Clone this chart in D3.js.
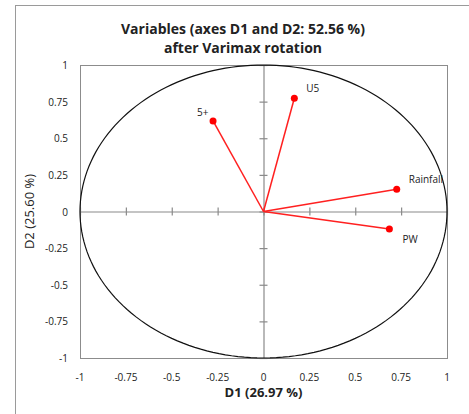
<!DOCTYPE html>
<html>
<head>
<meta charset="utf-8">
<script src="https://cdnjs.cloudflare.com/ajax/libs/d3/7.8.5/d3.min.js"></script>
<style>
  body { margin: 0; background: #fff; }
  text { font-family: 'Open Sans', 'Liberation Sans', sans-serif; fill: #222; }
</style>
</head>
<body>
<script>
  // data
  const variables = ['5+', 'U5', 'Rainfall', 'PW'];
  const d1Values = [-0.275, 0.168, 0.726, 0.686];
  const d2Values = [0.618, 0.773, 0.152, -0.120];
  const tickValues = [-1, -0.75, -0.5, -0.25, 0, 0.25, 0.5, 0.75, 1];

  const W = 469, H = 414;
  const plotLeft = 80, plotRight = 447, plotTop = 65, plotBottom = 358;

  const svg = d3.select('body').append('svg')
    .attr('width', W).attr('height', H);

  // outer frame
  svg.append('rect')
    .attr('x', 15.5).attr('y', 5.5)
    .attr('width', 470).attr('height', 430)
    .attr('fill', 'none').attr('stroke', '#9a9a9a');

  const x = d3.scaleLinear().domain([-1, 1]).range([plotLeft, plotRight]);
  const y = d3.scaleLinear().domain([-1, 1]).range([plotBottom, plotTop]);

  // plot box
  svg.append('rect')
    .attr('x', plotLeft + 0.5).attr('y', plotTop + 0.5)
    .attr('width', plotRight - plotLeft).attr('height', plotBottom - plotTop)
    .attr('fill', 'none').attr('stroke', '#8c8c8c');

  // tick labels
  svg.append('g').selectAll('text').data(tickValues).enter().append('text')
    .attr('x', d => x(d)).attr('y', plotBottom + 23)
    .attr('text-anchor', 'middle').attr('font-size', 10)
    .text(d => String(d));

  svg.append('g').selectAll('text').data(tickValues).enter().append('text')
    .attr('x', plotLeft - 12).attr('y', d => y(d) + 4)
    .attr('text-anchor', 'end').attr('font-size', 10)
    .text(d => String(d));

  // zero axes with ticks
  const axisColor = '#8a8a8a';
  const gx = svg.append('g').attr('transform', `translate(0,${y(0)})`)
    .call(d3.axisBottom(x).tickValues(tickValues).tickSizeInner(8).tickSizeOuter(0).tickFormat(''));
  gx.selectAll('line').attr('y1', -4).attr('y2', 4);
  const gy = svg.append('g').attr('transform', `translate(${x(0)},0)`)
    .call(d3.axisLeft(y).tickValues(tickValues).tickSizeInner(8).tickSizeOuter(0).tickFormat(''));
  gy.selectAll('line').attr('x1', -4).attr('x2', 4);
  svg.selectAll('.domain').attr('stroke', axisColor).attr('stroke-width', 1.2);
  svg.selectAll('.tick line').attr('stroke', axisColor).attr('stroke-width', 1.2);

  // correlation circle
  const angles = d3.range(0, 361, 2).map(a => a * Math.PI / 180);
  svg.append('path')
    .datum(angles)
    .attr('d', d3.line().x(a => x(Math.cos(a))).y(a => y(Math.sin(a))))
    .attr('fill', 'none').attr('stroke', '#111').attr('stroke-width', 1.2);

  // vectors
  const pts = variables.map((v, i) => ({ name: v, d1: d1Values[i], d2: d2Values[i] }));
  svg.append('g').selectAll('line').data(pts).enter().append('line')
    .attr('x1', x(0)).attr('y1', y(0))
    .attr('x2', d => x(d.d1)).attr('y2', d => y(d.d2))
    .attr('stroke', '#ff2020').attr('stroke-width', 1.5);
  svg.append('g').selectAll('circle').data(pts).enter().append('circle')
    .attr('cx', d => x(d.d1)).attr('cy', d => y(d.d2)).attr('r', 3.5)
    .attr('fill', '#ff0000');

  const labelOffsets = { '5+': [-16, -5], 'U5': [12, -6], 'Rainfall': [12, -6], 'PW': [13, 14] };
  svg.append('g').selectAll('text').data(pts).enter().append('text')
    .attr('x', d => x(d.d1) + labelOffsets[d.name][0])
    .attr('y', d => y(d.d2) + labelOffsets[d.name][1])
    .attr('font-size', 10)
    .text(d => d.name);

  // titles
  svg.append('text').attr('x', 243).attr('y', 34)
    .attr('text-anchor', 'middle').attr('font-size', 14).attr('font-weight', 'bold')
    .text('Variables (axes D1 and  D2: 52.56 %)');
  svg.append('text').attr('x', 243).attr('y', 53)
    .attr('text-anchor', 'middle').attr('font-size', 14).attr('font-weight', 'bold')
    .text('after Varimax rotation');

  svg.append('text').attr('x', x(0)).attr('y', 397)
    .attr('text-anchor', 'middle').attr('font-size', 13).attr('font-weight', 'bold')
    .text('D1 (26.97 %)');
  svg.append('text')
    .attr('transform', `translate(34,${y(0)}) rotate(-90)`)
    .attr('text-anchor', 'middle').attr('font-size', 13)
    .text('D2 (25.60 %)');
</script>
</body>
</html>
